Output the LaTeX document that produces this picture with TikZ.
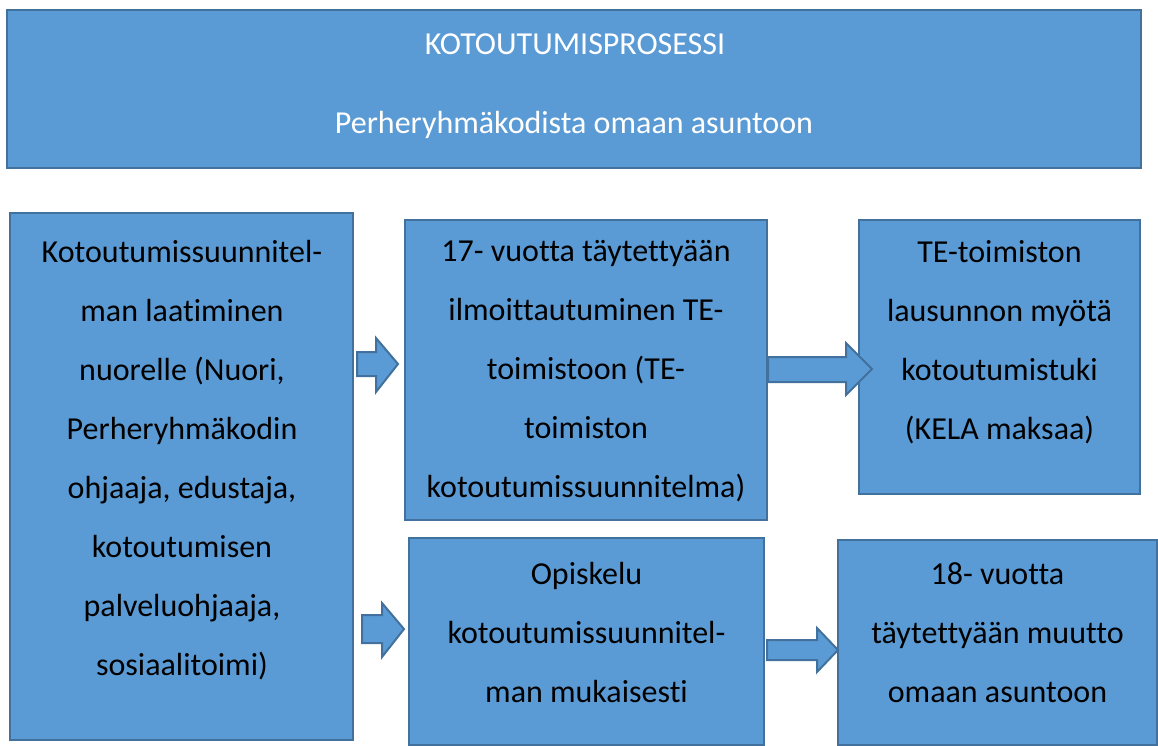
\documentclass[tikz,border=0pt]{standalone}
\usepackage{fontspec}
\setmainfont{Carlito}[RawFeature={-liga;-clig;-dlig}]
\begin{document}
\begin{tikzpicture}[x=1pt,y=-1pt,
  box/.style={draw=boxline,fill=boxfill,line width=2.5pt},
  blockarrow/.style={draw=boxline,fill=boxfill,line width=2pt,line join=miter},
  txt/.style={text=black,anchor=north,inner sep=0pt,align=center,
    font=\fontsize{32}{59}\selectfont},
  titletxt/.style={txt,text=white}]
\definecolor{boxfill}{HTML}{5B9BD5}
\definecolor{boxline}{HTML}{41719C}
\useasboundingbox (0,0) rectangle (1158,745);
% boxes
\draw[box] (7,10) rectangle (1141,168);
\draw[box] (10,213) rectangle (353,740);
\draw[box] (405,220) rectangle (767,520);
\draw[box] (859,220) rectangle (1140,494);
\draw[box] (409,538) rectangle (764,745);
\draw[box] (838,540) rectangle (1157,745);
% title text
\node[titletxt] (t1) at (575,33.5) {KOTOUTUMISPROSESSI};
\node[titletxt] (t2) at (574,111.5) {Perheryhmäkodista omaan asuntoon};
% box texts
\node[txt] (a) at (182,240.5) {Kotoutumissuunnitel-\\man laatiminen\\nuorelle (Nuori,\\Perheryhmäkodin\\ohjaaja, edustaja,\\kotoutumisen\\palveluohjaaja,\\sosiaalitoimi)};
\node[txt] (b) at (586,240.5) {17- vuotta täytettyään\\ilmoittautuminen TE-\\toimistoon (TE-\\toimiston\\kotoutumissuunnitelma)};
\node[txt] (c) at (999.5,240.5) {TE-toimiston\\lausunnon myötä\\kotoutumistuki\\(KELA maksaa)};
\node[txt] (d) at (586.5,562.5) {Opiskelu\\kotoutumissuunnitel-\\man mukaisesti};
\node[txt] (e) at (997.5,562.5) {18- vuotta\\täytettyään muutto\\omaan asuntoon};
% block arrows
\draw[blockarrow] (357,352) -- (376,352) -- (376,338) -- (398,364) -- (376,392) -- (376,376) -- (357,376) -- cycle;
\draw[blockarrow] (768,357) -- (846,357) -- (846,343) -- (872,369) -- (846,395) -- (846,382) -- (768,382) -- cycle;
\draw[blockarrow] (362,615) -- (382,615) -- (382,603) -- (404,629) -- (382,657) -- (382,643) -- (362,643) -- cycle;
\draw[blockarrow] (767,640) -- (817,640) -- (817,628) -- (838,650) -- (817,672) -- (817,660) -- (767,660) -- cycle;
\end{tikzpicture}
\end{document}
